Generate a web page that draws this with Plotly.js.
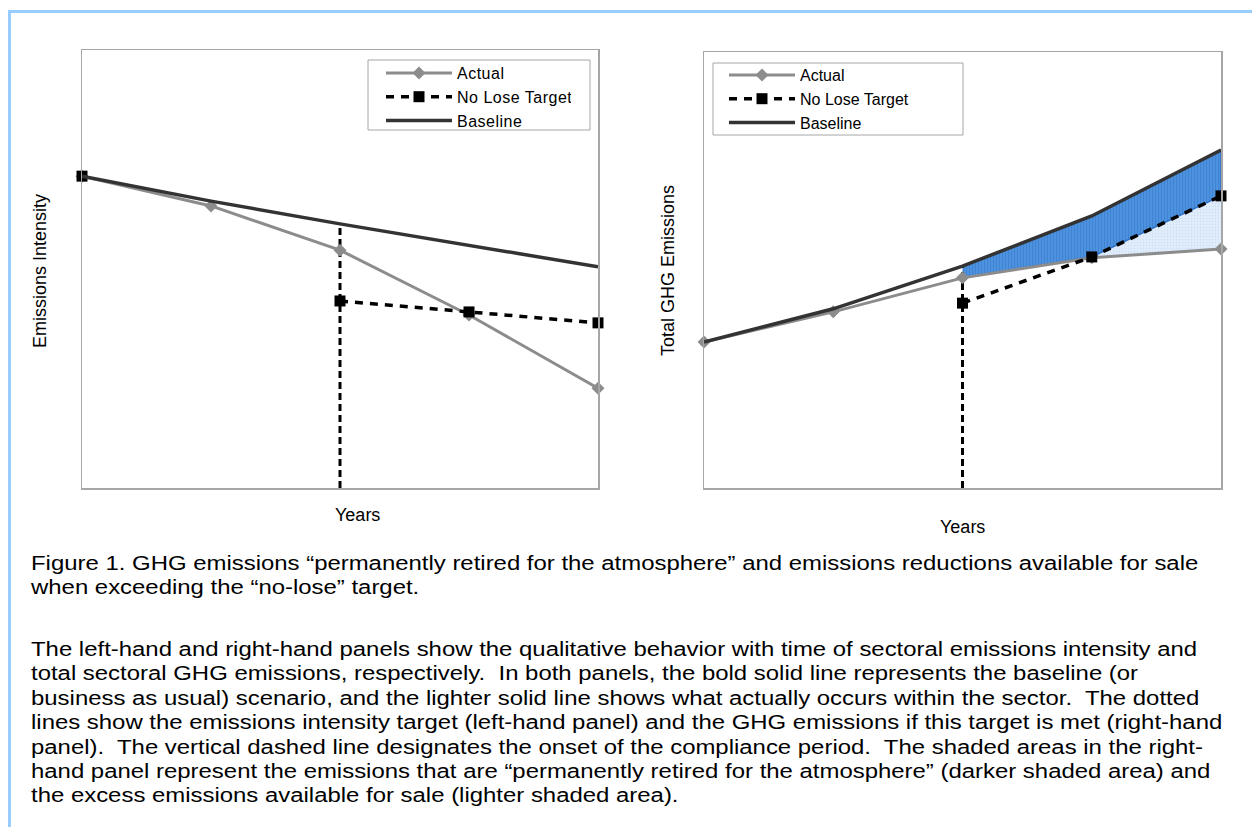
<!DOCTYPE html>
<html>
<head>
<meta charset="utf-8">
<script src="https://cdn.plot.ly/plotly-3.0.1.min.js"></script>
<style>
  html, body { margin: 0; padding: 0; background: #ffffff; width: 1252px; height: 827px; overflow: hidden; }
  #frame { position: absolute; left: 8px; top: 10px; width: 1400px; height: 1000px; border: 3px solid #99ccff; box-sizing: border-box; }
  #chart { position: absolute; left: 0; top: 0; width: 1252px; height: 540px; }
  .cap { position: absolute; left: 31px; font-family: "Liberation Sans", Arial, sans-serif; font-size: 20px; line-height: 24.4px;
         color: #000; white-space: pre; transform: scaleX(1.196); transform-origin: 0 0; }
  #chart .legendtext { letter-spacing: 0.5px; }
</style>
</head>
<body>
<div id="frame"></div>
<div id="chart"></div>
<div class="cap" style="top:551px;">Figure 1. GHG emissions “permanently retired for the atmosphere” and emissions reductions available for sale
when exceeding the “no-lose” target.</div>
<div class="cap" style="top:637px;">The left-hand and right-hand panels show the qualitative behavior with time of sectoral emissions intensity and
total sectoral GHG emissions, respectively.  In both panels, the bold solid line represents the baseline (or
business as usual) scenario, and the lighter solid line shows what actually occurs within the sector.  The dotted
lines show the emissions intensity target (left-hand panel) and the GHG emissions if this target is met (right-hand
panel).  The vertical dashed line designates the onset of the compliance period.  The shaded areas in the right-
hand panel represent the emissions that are “permanently retired for the atmosphere” (darker shaded area) and
the excess emissions available for sale (lighter shaded area).</div>
<script>
// ---- data (arbitrary units 0-100) ----
const years = [1, 2, 3, 4, 5];
const leftBaseline = [71.2, 65.5, 60.3, 55.3, 50.5];
const leftActual   = [71.2, 64.4, 54.3, 39.5, 22.8];
const leftTarget   = [71.2, null, 42.7, 40.2, 37.7];
const rightBaseline = [33.5, 41.1, 50.9, 62.4, 77.5];
const rightActual   = [33.5, 40.4, 48.2, 52.8, 54.8];
const rightTarget   = [null, null, 42.4, 53.0, 67.0];
const complianceStart = 3;
const seriesNames = ['Actual', 'No Lose Target', 'Baseline'];
const axisTitles = { leftY: 'Emissions Intensity', rightY: 'Total GHG Emissions', x: 'Years' };

// ---- styles ----
const W = 1252, H = 540;
const FONT = '"Liberation Sans", Arial, sans-serif';
const actualStyle = { color: '#8c8c8c', width: 3 };
const baseStyle = { color: '#333333', width: 3.5 };
const targetStyle = { color: '#000000', width: 3.5, dash: '8px,7px' };
const vlineStyle = { color: '#000000', width: 3, dash: '7px,4px' };

function px(x) { return x / W; }
function py(y) { return 1 - y / H; }

function panelTraces(xa, ya, legend, base, act, tgt) {
  return [
    { x: years, y: act, xaxis: xa, yaxis: ya, name: seriesNames[0], legend: legend, mode: 'lines+markers',
      line: actualStyle, marker: { symbol: 'diamond', size: 10, color: '#8c8c8c' }, cliponaxis: false },
    { x: years, y: tgt, xaxis: xa, yaxis: ya, name: seriesNames[1], legend: legend, mode: 'lines+markers',
      connectgaps: false, line: targetStyle, marker: { symbol: 'square', size: 11, color: '#000000' }, cliponaxis: false },
    { x: years, y: base, xaxis: xa, yaxis: ya, name: seriesNames[2], legend: legend, mode: 'lines',
      line: baseStyle, cliponaxis: false }
  ];
}

const i0 = complianceStart - 1;
// shaded polygons on the right panel, built from the series
const darkX = [], darkY = [];
for (let i = i0; i < years.length; i++) { darkX.push(years[i]); darkY.push(rightBaseline[i]); }
for (let i = years.length - 1; i >= i0; i--) {
  darkX.push(years[i]);
  darkY.push(Math.max(rightActual[i], rightTarget[i] == null ? -Infinity : rightTarget[i]));
}
const lightX = [], lightY = [];
for (let i = i0 + 1; i < years.length; i++) { lightX.push(years[i]); lightY.push(rightTarget[i]); }
for (let i = years.length - 1; i >= i0 + 1; i--) { lightX.push(years[i]); lightY.push(rightActual[i]); }

const traces = [
  { x: lightX, y: lightY, xaxis: 'x2', yaxis: 'y2', mode: 'lines', fill: 'toself', fillcolor: '#deebfb',
    fillpattern: { shape: '.', fgcolor: '#cfe0f7', bgcolor: '#e2eefc', size: 3, solidity: 0.3 },
    line: { width: 0, color: '#deebfb' }, showlegend: false, hoverinfo: 'skip' },
  { x: darkX, y: darkY, xaxis: 'x2', yaxis: 'y2', mode: 'lines', fill: 'toself', fillcolor: '#4a8fdb',
    fillpattern: { shape: '|', fgcolor: '#3f83d2', bgcolor: '#4d92de', size: 3, solidity: 0.35 },
    line: { width: 1.5, color: '#2e6fc4' }, showlegend: false, hoverinfo: 'skip' },
  { x: [complianceStart, complianceStart], y: [0, leftBaseline[i0]], xaxis: 'x', yaxis: 'y', mode: 'lines',
    line: vlineStyle, showlegend: false, hoverinfo: 'skip' },
  { x: [complianceStart, complianceStart], y: [0, rightBaseline[i0]], xaxis: 'x2', yaxis: 'y2', mode: 'lines',
    line: vlineStyle, showlegend: false, hoverinfo: 'skip' },
  ...panelTraces('x', 'y', 'legend', leftBaseline, leftActual, leftTarget),
  ...panelTraces('x2', 'y2', 'legend2', rightBaseline, rightActual, rightTarget)
];

const axisBase = { range: [1, 5], showgrid: false, zeroline: false, showticklabels: false, ticks: '',
  showline: true, mirror: true, linecolor: '#a6a6a6', linewidth: 1.5, fixedrange: true };
const yBase = Object.assign({}, axisBase, { range: [0, 100] });

const legendBase = { xanchor: 'left', yanchor: 'top', bgcolor: 'rgba(0,0,0,0)', borderwidth: 0,
  font: { family: FONT, size: 16, color: '#000' }, itemwidth: 66, tracegroupgap: 0 };

function boxShape(x0, y0, x1, y1) {
  return { type: 'rect', xref: 'paper', yref: 'paper', x0: px(x0), x1: px(x1), y0: py(y1), y1: py(y0),
    line: { color: '#a6a6a6', width: 1 }, fillcolor: '#ffffff', layer: 'above' };
}

const layout = {
  width: W, height: H,
  margin: { l: 0, r: 0, t: 0, b: 0 },
  paper_bgcolor: 'rgba(0,0,0,0)', plot_bgcolor: '#ffffff',
  font: { family: FONT, size: 17, color: '#000' },
  xaxis: Object.assign({}, axisBase, { domain: [px(82), px(598)], anchor: 'y' }),
  yaxis: Object.assign({}, yBase, { domain: [py(488), py(50)], anchor: 'x' }),
  xaxis2: Object.assign({}, axisBase, { domain: [px(704), px(1221)], anchor: 'y2' }),
  yaxis2: Object.assign({}, yBase, { domain: [py(488), py(52)], anchor: 'x2' }),
  legend: Object.assign({}, legendBase, { x: px(381), y: py(56) }),
  legend2: Object.assign({}, legendBase, { x: px(724), y: py(58) }),
  showlegend: true,
  shapes: [ boxShape(368, 60, 590, 130), boxShape(713, 63, 963, 135) ],
  annotations: [
    { text: axisTitles.leftY, xref: 'paper', yref: 'paper', x: px(40), y: py(271), textangle: -90, showarrow: false,
      xanchor: 'center', yanchor: 'middle', font: { family: FONT, size: 18 } },
    { text: axisTitles.rightY, xref: 'paper', yref: 'paper', x: px(668), y: py(271), textangle: -90, showarrow: false,
      xanchor: 'center', yanchor: 'middle', font: { family: FONT, size: 18 } },
    { text: axisTitles.x, xref: 'paper', yref: 'paper', x: px(357), y: py(515), showarrow: false,
      xanchor: 'center', yanchor: 'middle', font: { family: FONT, size: 18 } },
    { text: axisTitles.x, xref: 'paper', yref: 'paper', x: px(962), y: py(527), showarrow: false,
      xanchor: 'center', yanchor: 'middle', font: { family: FONT, size: 18 } }
  ]
};

Plotly.newPlot('chart', traces, layout, { staticPlot: true, displayModeBar: false });
</script>
</body>
</html>
